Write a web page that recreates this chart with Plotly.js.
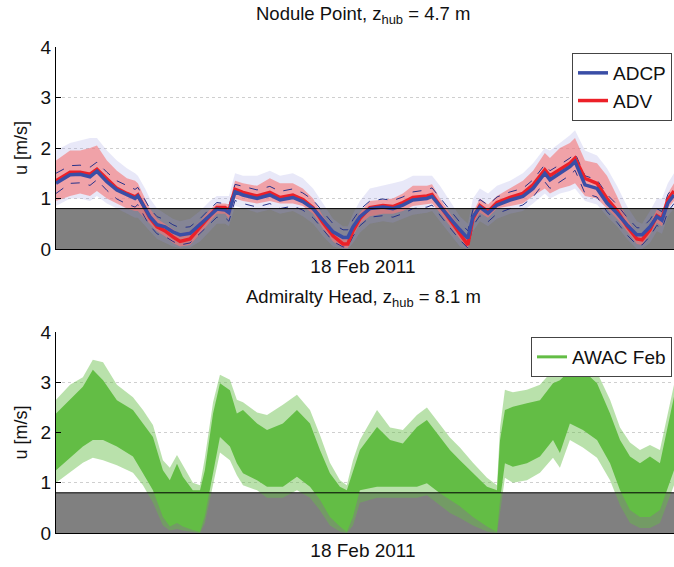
<!DOCTYPE html>
<html>
<head>
<meta charset="utf-8">
<script src="https://cdn.plot.ly/plotly-3.0.1.min.js"></script>
<style>
  html, body { margin: 0; padding: 0; background: #fff; }
  #chart { width: 674px; height: 567px; }
</style>
</head>
<body>
<div id="chart"></div>
<script>
// ---- Nodule Point (hours relative to 18 Feb 2011 00:00) ----
const npHours = [-12.00,-11.45,-11.06,-10.67,-10.40,-10.01,-9.62,-9.23,-8.91,-8.80,-8.52,-8.33,-8.05,-7.74,-7.43,-7.15,-6.76,-6.37,-5.98,-5.71,-5.39,-5.24,-5.00,-4.69,-4.14,-3.64,-3.24,-2.74,-2.35,-1.95,-1.56,-1.17,-0.78,-0.59,-0.39,-0.12,0.27,0.78,1.17,1.56,1.95,2.50,2.70,3.01,3.40,3.79,4.10,4.30,4.57,4.89,5.24,5.75,6.25,6.65,7.11,7.31,7.70,8.09,8.29,8.68,9.15,9.54,9.93,10.32,10.71,10.91,11.22,11.49,11.69,11.92,12.16];

// ADCP mean speed [m/s]
const adcpMean = [1.30,1.47,1.48,1.43,1.54,1.33,1.17,1.07,1.00,1.05,0.80,0.64,0.48,0.44,0.34,0.28,0.31,0.48,0.67,0.79,0.77,0.72,1.13,1.07,1.00,1.07,0.97,1.02,0.94,0.80,0.57,0.34,0.23,0.23,0.44,0.64,0.80,0.83,0.80,0.87,0.97,1.00,1.04,0.84,0.61,0.38,0.21,0.64,0.83,0.71,0.87,0.97,1.04,1.20,1.50,1.37,1.50,1.63,1.73,1.27,1.20,0.91,0.71,0.48,0.28,0.28,0.44,0.64,0.57,0.91,1.07];
// ADCP mean +/- one standard deviation
const adcpHi = [1.50,1.65,1.66,1.62,1.72,1.52,1.35,1.25,1.18,1.22,0.98,0.80,0.64,0.58,0.48,0.42,0.44,0.60,0.80,0.92,0.90,0.86,1.28,1.24,1.17,1.24,1.14,1.19,1.11,0.97,0.73,0.50,0.38,0.38,0.58,0.78,0.95,0.99,0.96,1.03,1.13,1.17,1.21,1.01,0.77,0.53,0.36,0.78,0.98,0.87,1.03,1.13,1.20,1.37,1.67,1.55,1.67,1.80,1.90,1.45,1.37,1.08,0.88,0.63,0.42,0.42,0.58,0.80,0.74,1.08,1.24];
const adcpLo = [1.10,1.30,1.31,1.26,1.37,1.16,0.99,0.89,0.83,0.88,0.62,0.46,0.30,0.25,0.15,0.08,0.12,0.30,0.50,0.63,0.62,0.55,0.96,0.90,0.83,0.90,0.80,0.85,0.77,0.62,0.38,0.15,0.04,0.04,0.25,0.46,0.63,0.66,0.63,0.70,0.80,0.83,0.87,0.66,0.42,0.18,0.02,0.46,0.66,0.54,0.70,0.80,0.87,1.03,1.33,1.20,1.33,1.46,1.56,1.10,1.03,0.74,0.53,0.28,0.08,0.08,0.25,0.47,0.40,0.74,0.90];
// spread of individual ADCP samples
const adcpRawHi = [1.95,2.10,2.15,2.20,2.20,1.95,1.75,1.60,1.50,1.45,1.20,1.00,0.80,0.70,0.60,0.55,0.60,0.75,0.95,1.05,1.05,1.05,1.50,1.45,1.45,1.55,1.45,1.50,1.40,1.20,0.90,0.60,0.45,0.45,0.70,0.95,1.20,1.25,1.30,1.35,1.45,1.45,1.45,1.25,0.95,0.65,0.50,1.00,1.20,1.10,1.25,1.35,1.50,1.70,2.00,1.95,2.10,2.25,2.35,1.95,1.85,1.60,1.25,0.85,0.55,0.50,0.75,1.00,1.00,1.30,1.50];
const adcpRawLo = [0.85,1.00,1.00,0.95,1.05,0.90,0.80,0.70,0.62,0.62,0.45,0.35,0.20,0.12,0.05,0.02,0.03,0.15,0.35,0.50,0.50,0.45,0.85,0.80,0.72,0.78,0.70,0.75,0.65,0.50,0.25,0.05,0.00,0.00,0.12,0.32,0.50,0.55,0.52,0.60,0.68,0.72,0.75,0.55,0.30,0.05,0.00,0.35,0.55,0.45,0.60,0.70,0.75,0.90,1.10,1.00,1.10,1.15,1.20,0.95,0.88,0.65,0.45,0.20,0.00,0.00,0.12,0.35,0.30,0.65,0.80];

// ADV mean speed [m/s]
const advMean = [1.35,1.52,1.52,1.48,1.58,1.38,1.20,1.10,1.03,1.07,0.80,0.62,0.44,0.36,0.24,0.15,0.20,0.42,0.66,0.82,0.82,0.76,1.18,1.12,1.05,1.12,1.02,1.07,0.98,0.82,0.52,0.26,0.10,0.10,0.36,0.60,0.82,0.86,0.84,0.92,1.02,1.05,1.08,0.86,0.58,0.30,0.08,0.60,0.86,0.74,0.92,1.02,1.10,1.27,1.57,1.45,1.57,1.70,1.80,1.40,1.30,1.00,0.76,0.45,0.20,0.18,0.38,0.66,0.60,0.98,1.15];
// spread of individual ADV samples
const advRawHi = [1.75,1.95,1.95,2.00,2.05,1.75,1.55,1.40,1.35,1.30,1.00,0.80,0.60,0.50,0.40,0.30,0.35,0.55,0.78,0.90,0.90,0.88,1.35,1.30,1.25,1.40,1.30,1.30,1.20,1.00,0.65,0.38,0.20,0.20,0.48,0.72,0.95,0.98,1.00,1.10,1.25,1.25,1.28,1.00,0.72,0.42,0.18,0.72,1.00,0.88,1.05,1.20,1.35,1.55,1.90,1.80,2.00,2.10,2.20,1.75,1.70,1.45,1.05,0.60,0.30,0.28,0.50,0.78,0.72,1.10,1.30];
const advRawLo = [0.95,1.05,1.10,1.05,1.15,1.00,0.90,0.80,0.75,0.75,0.60,0.50,0.35,0.25,0.12,0.05,0.08,0.30,0.55,0.70,0.70,0.60,1.00,0.95,0.90,0.95,0.90,0.90,0.85,0.70,0.40,0.15,0.02,0.02,0.25,0.50,0.65,0.70,0.70,0.75,0.85,0.88,0.90,0.72,0.45,0.20,0.02,0.50,0.72,0.62,0.80,0.85,0.90,1.05,1.20,1.10,1.20,1.25,1.30,1.05,1.00,0.80,0.60,0.35,0.10,0.08,0.28,0.52,0.45,0.80,0.95];

// ---- Admiralty Head ----
const ahHours = [-12.00,-11.45,-10.95,-10.56,-10.16,-9.62,-8.99,-8.60,-8.21,-7.82,-7.55,-7.27,-7.04,-6.65,-6.37,-6.18,-5.86,-5.59,-5.20,-4.93,-4.69,-4.14,-3.75,-3.13,-2.58,-2.07,-1.68,-1.29,-0.90,-0.63,-0.39,-0.12,0.55,1.06,1.56,2.11,2.50,3.01,3.40,3.79,4.30,4.85,5.24,5.36,5.55,5.86,6.41,6.92,7.43,7.70,8.09,8.60,9.15,9.66,10.05,10.44,10.83,11.22,11.61,12.16];
// AWAC speed samples: dense core of the cloud [m/s]
const awacHi = [2.38,2.65,2.91,3.25,3.04,2.64,2.45,2.18,1.91,1.25,1.05,1.38,1.12,0.85,0.85,1.25,2.38,2.98,2.84,2.38,2.45,2.18,2.05,2.18,2.45,2.18,1.65,1.19,0.92,0.85,1.25,1.65,2.11,1.85,1.78,2.11,2.25,1.91,1.65,1.45,1.19,0.92,0.85,1.85,2.45,2.51,2.58,2.64,2.98,3.04,3.24,3.24,2.98,2.38,1.85,1.52,1.39,1.52,1.39,2.71];
const awacLo = [1.25,1.50,1.72,1.85,1.85,1.72,1.52,1.19,0.85,0.32,0.13,0.20,0.13,0.06,0.02,0.34,1.19,1.91,1.72,1.39,1.19,1.05,0.92,0.92,1.12,0.92,0.66,0.32,0.13,0.02,0.32,0.85,0.92,0.92,0.92,0.92,0.99,0.79,0.66,0.53,0.32,0.13,0.02,0.66,1.39,1.32,1.39,1.52,1.85,1.59,2.18,2.05,1.85,1.39,0.85,0.46,0.32,0.32,0.46,1.25];
// AWAC speed samples: sparse outer edge of the cloud [m/s]
const awacOutHi = [2.65,2.95,3.10,3.45,3.40,2.95,2.70,2.45,2.15,1.45,1.30,1.55,1.35,1.00,0.95,1.50,2.60,3.15,3.05,2.65,2.60,2.40,2.35,2.55,2.75,2.45,1.95,1.40,1.05,0.95,1.45,1.85,2.45,2.10,2.05,2.35,2.50,2.15,1.90,1.70,1.40,1.10,0.95,2.10,2.85,2.80,2.85,2.95,3.25,3.40,3.40,3.40,3.20,2.65,2.10,1.80,1.65,1.75,1.65,2.95];
const awacOutLo = [1.00,1.20,1.40,1.50,1.45,1.35,1.20,0.95,0.60,0.15,0.05,0.08,0.05,0.02,0.00,0.20,0.95,1.60,1.45,1.15,0.95,0.85,0.70,0.70,0.85,0.70,0.45,0.15,0.03,0.00,0.15,0.60,0.70,0.70,0.70,0.70,0.75,0.55,0.40,0.30,0.15,0.03,0.00,0.40,1.10,1.00,1.05,1.20,1.50,1.30,1.85,1.70,1.50,1.05,0.55,0.20,0.10,0.10,0.20,0.95];

// labels
const titleTop = 'Nodule Point, z<sub>hub</sub> = 4.7 m';
const titleBottom = 'Admiralty Head, z<sub>hub</sub> = 8.1 m';
const dateLabel = '18 Feb 2011';
const yLabel = 'u [m/s]';
const slackLimit = 0.8;

const FONT = 'Liberation Sans, Arial, Helvetica, sans-serif';
const BLUE = '#3a4ea6';
const RED = '#ec2028';
const DASH = '#27328a';
const GREEN = '#63bd45';

function band(x, lo, hi, color, xa, ya) {
  return [
    {x: x, y: lo, xaxis: xa, yaxis: ya, mode: 'lines', line: {width: 0, color: color}, showlegend: false, hoverinfo: 'skip'},
    {x: x, y: hi, xaxis: xa, yaxis: ya, mode: 'lines', line: {width: 0, color: color}, fill: 'tonexty', fillcolor: color, showlegend: false, hoverinfo: 'skip'}
  ];
}

const traces = [
  ...band(npHours, adcpRawLo, adcpRawHi, 'rgba(150,150,225,0.22)', 'x', 'y'),
  ...band(npHours, advRawLo, advRawHi, 'rgba(246,120,120,0.62)', 'x', 'y'),
  {x: npHours, y: adcpHi, xaxis: 'x', yaxis: 'y', mode: 'lines', line: {color: DASH, width: 1, dash: 'dash'}, showlegend: false},
  {x: npHours, y: adcpLo, xaxis: 'x', yaxis: 'y', mode: 'lines', line: {color: DASH, width: 1, dash: 'dash'}, showlegend: false},
  {x: npHours, y: advMean, xaxis: 'x', yaxis: 'y', mode: 'lines', name: 'ADV', line: {color: RED, width: 3.5}, legend: 'legend'},
  {x: npHours, y: adcpMean, xaxis: 'x', yaxis: 'y', mode: 'lines', name: 'ADCP', line: {color: BLUE, width: 3.5}, legend: 'legend'},
  ...band(ahHours, awacOutLo, awacOutHi, 'rgba(99,189,69,0.45)', 'x2', 'y2'),
  ...band(ahHours, awacLo, awacHi, GREEN, 'x2', 'y2'),
  {x: [null], y: [null], xaxis: 'x2', yaxis: 'y2', mode: 'lines', name: 'AWAC Feb', line: {color: GREEN, width: 3}, legend: 'legend2'}
];

const xCommon = {
  range: [-12, 12.16], showgrid: false, zeroline: false,
  showline: true, linecolor: '#000', linewidth: 1,
  tickvals: [0], ticktext: [dateLabel], ticks: '',
  tickfont: {family: FONT, size: 19, color: '#111'}, fixedrange: true
};
const yCommon = {
  range: [0, 4], dtick: 1, tick0: 0, zeroline: false,
  showline: true, linecolor: '#000', linewidth: 1,
  ticks: 'inside', ticklen: 5, tickcolor: '#000',
  showgrid: true, gridcolor: '#cfcfcf', griddash: 'dot', gridwidth: 1,
  tickfont: {family: FONT, size: 19, color: '#111'},
  title: {text: yLabel, font: {family: FONT, size: 18, color: '#111'}, standoff: 8},
  automargin: false
};

const legendStyle = {
  xanchor: 'right', yanchor: 'top',
  bgcolor: '#fff', bordercolor: '#444', borderwidth: 1,
  font: {family: FONT, size: 19, color: '#111'}
};

const layout = {
  width: 674, height: 567,
  margin: {l: 0, r: 0, t: 0, b: 0},
  paper_bgcolor: '#fff', plot_bgcolor: '#fff',
  font: {family: FONT, color: '#111'},
  xaxis: Object.assign({}, xCommon, {domain: [56/674, 1], anchor: 'y'}),
  yaxis: Object.assign({}, yCommon, {domain: [1 - 249/567, 1 - 47/567], anchor: 'x'}),
  xaxis2: Object.assign({}, xCommon, {domain: [56/674, 1], anchor: 'y2'}),
  yaxis2: Object.assign({}, yCommon, {domain: [1 - 533/567, 1 - 332/567], anchor: 'x2'}),
  shapes: [
    {type: 'rect', xref: 'x domain', yref: 'y', x0: 0, x1: 1, y0: 0, y1: slackLimit, fillcolor: '#808080', line: {width: 0}, layer: 'below'},
    {type: 'line', xref: 'x domain', yref: 'y', x0: 0, x1: 1, y0: slackLimit, y1: slackLimit, line: {color: '#000', width: 1}, layer: 'above'},
    {type: 'rect', xref: 'x2 domain', yref: 'y2', x0: 0, x1: 1, y0: 0, y1: slackLimit, fillcolor: '#808080', line: {width: 0}, layer: 'below'},
    {type: 'line', xref: 'x2 domain', yref: 'y2', x0: 0, x1: 1, y0: slackLimit, y1: slackLimit, line: {color: '#000', width: 1}, layer: 'above'}
  ],
  annotations: [
    {text: titleTop, xref: 'paper', yref: 'paper', x: 363/674, y: 1 - 15/567, xanchor: 'center', yanchor: 'middle', showarrow: false, font: {family: FONT, size: 18.5, color: '#111'}},
    {text: titleBottom, xref: 'paper', yref: 'paper', x: 363/674, y: 1 - 298/567, xanchor: 'center', yanchor: 'middle', showarrow: false, font: {family: FONT, size: 18.5, color: '#111'}}
  ],
  legend: Object.assign({x: 672/674, y: 1 - 53/567, traceorder: 'reversed'}, legendStyle),
  legend2: Object.assign({x: 672/674, y: 1 - 337/567}, legendStyle),
  showlegend: true
};

Plotly.newPlot('chart', traces, layout, {staticPlot: true, displayModeBar: false});
</script>
</body>
</html>
